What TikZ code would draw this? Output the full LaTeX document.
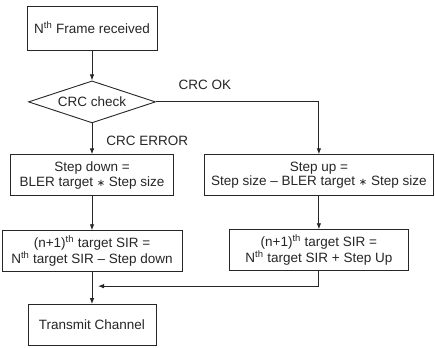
\documentclass[tikz,border=0pt]{standalone}
\usepackage{fontspec}
\setmainfont{Liberation Sans}
\newfontfamily\symfont{DejaVu Sans}
\usepackage{tikz}
\usetikzlibrary{arrows.meta,positioning,calc,shapes.geometric}
\newcommand{\mulsign}{{\symfont\fontsize{10}{10}\selectfont ∗}}
\tikzset{
  flowarrow/.style={-{Latex[length=6pt,width=4.5pt]}, line width=0.9pt, draw=black!85},
  flowbox/.style={draw=black!85, line width=0.9pt, fill=white, align=center,
    inner sep=2pt, minimum height=41pt, text=black!85,
    font=\fontsize{13.5}{14.5}\selectfont},
  decision/.style={diamond, aspect=3, draw=black!85, line width=0.9pt, fill=white,
    inner sep=0pt, minimum width=127pt, minimum height=42pt, text=black!85,
    font=\fontsize{13.5}{14.5}\selectfont},
  smallnote/.style={inner sep=0pt, text=black!85, font=\fontsize{13.5}{14.5}\selectfont}
}

\begin{document}
\begin{tikzpicture}
                \useasboundingbox[fill=white] (0,0) rectangle (435pt,-347pt);

                \node[flowbox, minimum width=130pt, minimum height=44pt] (frame) at (92pt,-28pt) {N\textsuperscript{th} Frame received};
                \node[decision, below=30pt of frame] (crc) {CRC check};

                \node[flowbox, below=31pt of crc, minimum width=163pt] (stepdown) {Step down =\\BLER target \mulsign{} Step size};
                \node[flowbox, right=30pt of stepdown, minimum width=229pt] (stepup) {Step up =\\Step size – BLER target \mulsign{} Step size};

                \node[flowbox, below=34pt of stepdown, minimum width=180pt] (sirdown) {(n+1)\textsuperscript{th} target SIR =\\N\textsuperscript{th} target SIR – Step down};
                \node[flowbox, below=33pt of stepup, minimum width=179pt] (sirup) {(n+1)\textsuperscript{th} target SIR =\\N\textsuperscript{th} target SIR + Step Up};

                \node[flowbox, below=32pt of sirdown, minimum width=128pt] (tx) {Transmit Channel};
                \coordinate (join) at ($(sirdown.south)+(6pt,-14pt)$);

                \draw[flowarrow] (frame) -- (crc);
                \draw[flowarrow] (crc.east) -| node[smallnote, pos=0.15, above=12pt] {CRC OK} (stepup.north);
                \draw[flowarrow] (crc.south) -- node[smallnote, pos=0.58, right=14pt] {CRC ERROR} (stepdown.north);
                \foreach \a/\b in {stepdown/sirdown,stepup/sirup,sirdown/tx}
                    \draw[flowarrow] (\a) -- (\b);
                \draw[flowarrow] (sirup.south) |- (join);
            \end{tikzpicture}
\end{document}
